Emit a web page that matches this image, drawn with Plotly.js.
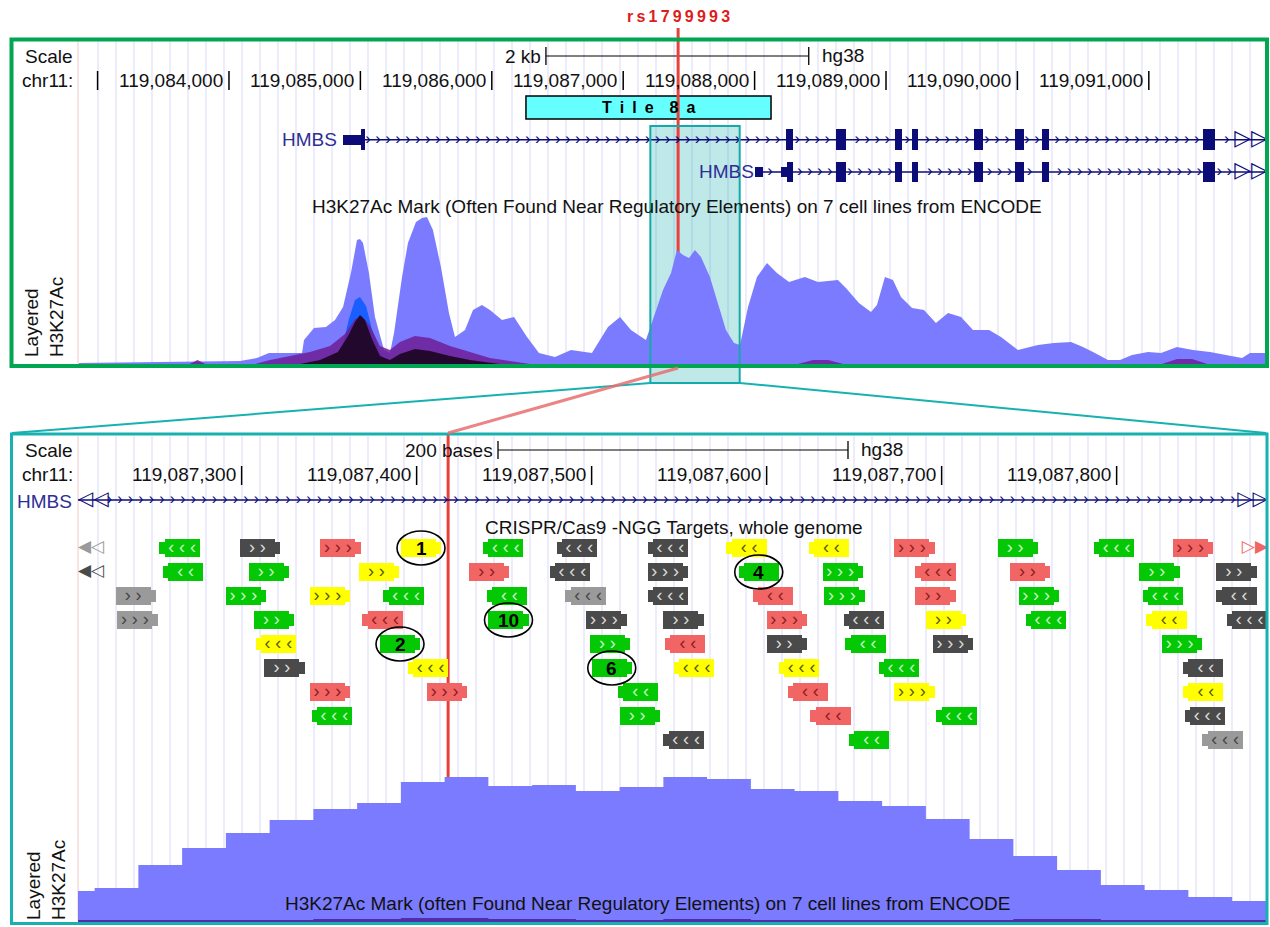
<!DOCTYPE html>
<html><head><meta charset="utf-8">
<script src="https://cdn.plot.ly/plotly-3.0.1.min.js"></script>
<style>html,body{margin:0;padding:0;background:#fff}#chart{width:1270px;height:927px}</style>
</head><body><div id="chart"></div>
<script>
// ================= DATA =================
const chromLabel = 'chr11:';
const assembly = 'hg38';
const topView = [119082851, 119091907];
const zoomView = [119087206.5, 119087886.5];
const snpName = 'rs1799993';
const snpPos = 119087418;

const topTicks = [119083000,119084000,119085000,119086000,119087000,119088000,119089000,119090000,119091000];
const topTickLabels = ['','119,084,000','119,085,000','119,086,000','119,087,000','119,088,000','119,089,000','119,090,000','119,091,000'];
const bottomTicks = [119087300,119087400,119087500,119087600,119087700,119087800];
const bottomTickLabels = ['119,087,300','119,087,400','119,087,500','119,087,600','119,087,700','119,087,800'];

const topScaleBar = [119086412, 119088412];
const topScaleLabel = '2 kb';
const bottomScaleBar = [119087446.5, 119087646.5];
const bottomScaleLabel = '200 bases';

const tileName = 'Tile 8a';
const tileRange = [119086260, 119088125];

const geneName = 'HMBS';
const gene1ExonStarts = [119084868,119088239,119088619,119089068,119089198,119089669,119089981,119090187,119091412];
const gene1ExonEnds   = [119085035,119088292,119088695,119089122,119089243,119089738,119090050,119090240,119091503];
const gene1CdsStart = 119085005;
const gene1TxEnd = 119093549;
const gene2ExonStarts = [119088003,119088201,119088619,119089068,119089198,119089669,119089981,119090187,119091412];
const gene2ExonEnds   = [119088064,119088292,119088695,119089122,119089243,119089738,119090050,119090240,119091503];
const gene2CdsStart = 119088246;
const gene2TxEnd = 119093549;

const trackTitleTop = 'H3K27Ac Mark (Often Found Near Regulatory Elements) on 7 cell lines from ENCODE';
const trackTitleBottom = 'H3K27Ac Mark (often Found Near Regulatory Elements) on 7 cell lines from ENCODE';
const crisprTitle = 'CRISPR/Cas9 -NGG Targets, whole genome';

// H3K27Ac layered signal, overview window
const sigTopPos = [119082858,119083399,119083779,119084084,119084213,119084304,119084556,119084571,119084647,119084738,
 119084807,119084868,119084928,119084974,119084997,119085020,119085065,119085111,119085180,119085225,
 119085256,119085317,119085362,119085423,119085469,119085507,119085552,119085613,119085674,119085720,
 119085796,119085857,119085925,119085986,119086078,119086169,119086268,119086359,119086481,119086603,
 119086762,119086884,119086976,119087059,119087173,119087234,119087303,119087364,119087409,119087455,
 119087501,119087546,119087592,119087660,119087721,119087782,119087843,119087889,119087950,119088018,
 119088094,119088170,119088262,119088383,119088482,119088634,119088695,119088794,119088886,119088931,
 119088992,119089053,119089114,119089198,119089289,119089380,119089472,119089571,119089662,119089784,
 119089875,119090004,119090156,119090278,119090408,119090499,119090590,119090689,119090781,119090872,
 119090994,119091093,119091214,119091336,119091466,119091587,119091709,119091770,119091907];
const sigTopVal = [1,2,2,3,6,11,11,24,36,37, 44,57,91,124,125,121,91,47,14,11, 31,87,121,142,146,147,134,97,51,27,
 34,54,59,54,44,47,27,11,7,14, 11,37,47,34,24,47,74,91,114,109, 106,114,107,87,61,34,21,19,57,87,
 101,91,82,87,82,84,76,61,52,59, 87,84,67,56,54,41,51,47,34,34, 27,14,19,21,22,17,11,4,4,9,
 12,11,17,14,12,9,6,11,11];
const sigBluePos = [119084807,119084868,119084913,119084959,119084997,119085043,119085088,119085149,119085195];
const sigBlueVal = [0,20,45,64,67,58,35,12,0];
const sigPurplePos = [119083700,119083760,119083820,119084198,119084312,119084464,119084616,119084769,119084883,119084959,119085012,
 119085073,119085149,119085225,119085301,119085415,119085530,119085682,119085834,119085986,119086138,119086290,
 119088330,119088445,119088560,119088675,119091100,119091215,119091330,119091445];
const sigPurpleVal = [0,4,0,0,4,8,12,18,30,45,48, 38,18,14,22,28,26,18,12,6,3,0, 0,4,4,0,0,5,5,0];
const sigDarkPos = [119084540,119084692,119084829,119084906,119084959,119084997,119085035,119085088,119085149,119085225,
 119085301,119085415,119085530,119085682,119085834,119085986,119086062];
const sigDarkVal = [0,4,12,28,42,49,44,25,8,4,10,15,13,8,4,1,0];

// H3K27Ac signal, zoomed window (25-base bins)
const binStarts = [119087191,119087216,119087241,119087266,119087291,119087316,119087341,119087366,119087391,119087416,
 119087441,119087466,119087491,119087516,119087541,119087566,119087591,119087616,119087641,119087666,
 119087691,119087716,119087741,119087766,119087791,119087816,119087841,119087866];
const binVal = [31,34,57,74,89,102,113,119,140,145,136,137,131,135,145,143,133,131,121,116,103,83,66,52,37,32,25,21];
const binValLow = [2,2,2,2,2,2,3,3,4,4,3,3,2,2,3,3,2,2,2,2,2,2,3,3,2,2,2,2];

// CRISPR/Cas9 NGG targets (row, start, strand, score colour, chevrons)
const tgtRow = [0,0,0,0,0,0,0,0,0,0,0,0,0,0,0,
 1,1,1,1,1,1,1,1,1,1,1,1,1,
 2,2,2,2,2,2,2,2,2,2,2,2,2,
 3,3,3,3,3,3,3,3,3,3,3,3,
 4,4,4,4,4,4,4,4,
 5,5,5,5,5,5,5,
 6,6,6,6,6,6,
 7,7,7,7,7,
 8,8,8];
const tgtStart = [119087190,119087253,119087299,119087345,119087391,119087438,119087480,119087532,119087577,119087624,119087673,119087732,119087787,119087832,119087872,
 119087193,119087255,119087304,119087367,119087430,119087476,119087532,119087584,119087632,119087685,119087739,119087813,119087857,
 119087228,119087291,119087339,119087381,119087440,119087485,119087532,119087592,119087633,119087685,119087744,119087815,119087857,
 119087229,119087307,119087369,119087441,119087497,119087541,119087600,119087644,119087691,119087748,119087817,119087863,
 119087308,119087379,119087499,119087542,119087600,119087645,119087695,119087826,
 119087313,119087395,119087500,119087547,119087607,119087664,119087838,
 119087339,119087406,119087515,119087612,119087673,119087838,
 119087340,119087516,119087625,119087697,119087839,
 119087541,119087647,119087849];
const tgtStrand = ['-','-','+','+','+','-','-','-','-','-','+','+','-','+','+',
 '-','-','+','+','+','-','+','-','+','-','+','+','+',
 '+','+','+','-','-','-','-','-','+','+','+','-','-',
 '+','+','-','+','+','+','+','-','+','-','-','-',
 '-','+','+','-','+','-','+','+',
 '+','-','+','-','-','-','-',
 '+','+','-','-','+','-',
 '-','+','-','-','-',
 '-','-','-'];
const tgtColor = ['lgray','green','dgray','red','yellow','green','dgray','dgray','yellow','yellow','red','green','green','red','red',
 'dgray','green','green','yellow','red','dgray','dgray','green','green','red','red','green','dgray',
 'lgray','green','yellow','green','green','lgray','dgray','red','green','red','green','green','dgray',
 'lgray','green','red','green','dgray','dgray','red','dgray','yellow','green','yellow','dgray',
 'yellow','green','green','red','dgray','green','dgray','green',
 'dgray','yellow','green','yellow','yellow','green','dgray',
 'red','red','green','red','yellow','yellow',
 'green','green','red','green','dgray',
 'dgray','green','lgray'];
const tgtChev = [2,3,2,3,2,3,3,3,2,2,3,2,3,3,3,
 2,2,2,2,2,3,3,2,3,3,2,2,2,
 2,3,3,3,2,3,3,2,3,2,3,3,2,
 3,2,3,2,3,2,3,3,2,3,2,3,
 3,2,2,2,2,2,3,3,
 2,3,2,3,3,3,2,
 3,3,2,2,3,2,
 3,2,2,3,3,
 3,2,3];

// circled guide labels
const lblRow = [0,1,3,4,5];
const lblStart = [119087391,119087584,119087441,119087379,119087500];
const lblText = ['1','4','10','2','6'];

// ================= DRAWING =================
const W = 1270, H = 927, L = 78, R = 1268;
const FONT = 'Liberation Sans, Arial, Helvetica, sans-serif';
const SYM = 'DejaVu Sans, sans-serif';
const px = v => v / W;
const py = v => 1 - v / H;
const topX = p => L + (p - topView[0]) * (R - L) / (topView[1] - topView[0]);
const botX = p => L + (p - zoomView[0]) * (R - L) / (zoomView[1] - zoomView[0]);

const NAVY = '#0c0c78';
const LAV = 'rgb(123,123,255)';
const GREEN_BORDER = '#00a651';
const TEAL = '#17b1b1';
const SNP_RED = '#e8403a';
const colorMap = {green:'#05c805', dgray:'#4a4a4a', lgray:'#9a9a9a', red:'#f26565', yellow:'#ffff00'};
const chevColorMap = {green:'#c4f7c4', dgray:'#dcdcdc', lgray:'#454545', red:'#8a1e1e', yellow:'#5a5a0a'};

const data = [];

// ---- top signal layers
data.push({type:'scatter', mode:'lines', x:sigTopPos, y:sigTopVal, xaxis:'x', yaxis:'y', fill:'tozeroy',
  fillcolor:LAV, line:{width:0, color:LAV}, hoverinfo:'skip'});
data.push({type:'scatter', mode:'lines', x:sigBluePos, y:sigBlueVal, xaxis:'x', yaxis:'y', fill:'tozeroy',
  fillcolor:'rgb(25,95,255)', line:{width:0}, hoverinfo:'skip'});
data.push({type:'scatter', mode:'lines', x:sigPurplePos, y:sigPurpleVal, xaxis:'x', yaxis:'y', fill:'tozeroy',
  fillcolor:'rgba(110,30,150,0.85)', line:{width:0}, hoverinfo:'skip'});
data.push({type:'scatter', mode:'lines', x:sigDarkPos, y:sigDarkVal, xaxis:'x', yaxis:'y', fill:'tozeroy',
  fillcolor:'rgb(35,8,45)', line:{width:0}, hoverinfo:'skip'});

// ---- bottom signal
const binW = binStarts[1] - binStarts[0];
data.push({type:'scatter', mode:'lines', x:binStarts.concat([binStarts[binStarts.length-1]+binW]),
  y:binVal.concat([binVal[binVal.length-1]]), line:{shape:'hv', width:0, color:LAV}, fill:'tozeroy', fillcolor:LAV,
  xaxis:'x2', yaxis:'y3', hoverinfo:'skip'});
data.push({type:'scatter', mode:'lines', x:binStarts.concat([binStarts[binStarts.length-1]+binW]),
  y:binValLow.concat([binValLow[binValLow.length-1]]), line:{shape:'hv', width:0}, fill:'tozeroy', fillcolor:'rgb(80,45,170)',
  xaxis:'x2', yaxis:'y3', hoverinfo:'skip'});

// ---- top genes
function addGene(exS, exE, cds, txEnd, row) {
  const thickY=[], thickB=[], thickL=[], thinY=[], thinB=[], thinL=[];
  exS.forEach((s,k)=>{
    const e = exE[k];
    if (e <= cds) { thinY.push(row); thinB.push(s); thinL.push(e-s); }
    else if (s < cds) { thinY.push(row); thinB.push(s); thinL.push(cds-s); thickY.push(row); thickB.push(cds); thickL.push(e-cds); }
    else { thickY.push(row); thickB.push(s); thickL.push(e-s); }
  });
  const end = Math.min(txEnd, topView[1]);
  data.push({type:'scatter', mode:'lines', x:[exS[0], end], y:[row,row], xaxis:'x', yaxis:'y2',
    line:{color:NAVY, width:1.5}, hoverinfo:'skip'});
  data.push({type:'bar', orientation:'h', y:thinY, x:thinL, base:thinB, width:0.3, xaxis:'x', yaxis:'y2',
    marker:{color:NAVY, line:{width:0}}, hoverinfo:'skip'});
  data.push({type:'bar', orientation:'h', y:thickY, x:thickL, base:thickB, width:0.64, xaxis:'x', yaxis:'y2',
    marker:{color:NAVY, line:{width:0}}, hoverinfo:'skip'});
  const cx = [];
  const step = 76, margin = 22;
  for (let p = exS[0] + step/2; p < end - 270; p += step) {
    let inside = false;
    for (let k = 0; k < exS.length; k++) if (p > exS[k]-margin && p < exE[k]+margin) inside = true;
    if (!inside) cx.push(p);
  }
  data.push({type:'scatter', mode:'text', x:cx, y:cx.map(()=>row), text:cx.map(()=>'›'), xaxis:'x', yaxis:'y2',
    textposition:'middle center', textfont:{family:FONT, size:17, color:NAVY}, hoverinfo:'skip'});
  if (txEnd > topView[1]) {
    data.push({type:'scatter', mode:'text', x:[topView[1]], y:[row], text:['▷▷'], xaxis:'x', yaxis:'y2',
      textposition:'middle left', cliponaxis:false, textfont:{family:SYM, size:22, color:NAVY}, hoverinfo:'skip'});
  }
}
addGene(gene1ExonStarts, gene1ExonEnds, gene1CdsStart, gene1TxEnd, 1);
addGene(gene2ExonStarts, gene2ExonEnds, gene2CdsStart, gene2TxEnd, 2);

// ---- bottom gene (intronic within zoom window)
const GENE_ROW_B = -2;
data.push({type:'scatter', mode:'lines', x:[zoomView[0], zoomView[1]], y:[GENE_ROW_B, GENE_ROW_B], xaxis:'x2', yaxis:'y4',
  line:{color:NAVY, width:1.3}, hoverinfo:'skip'});
(function(){
  const cx = [];
  for (let p = zoomView[0] + 18; p < zoomView[1] - 17; p += 6) cx.push(p);
  data.push({type:'scatter', mode:'text', x:cx, y:cx.map(()=>GENE_ROW_B), text:cx.map(()=>'›'), xaxis:'x2', yaxis:'y4',
    textposition:'middle center', textfont:{family:FONT, size:16, color:NAVY}, hoverinfo:'skip'});
  data.push({type:'scatter', mode:'text', x:[zoomView[0], zoomView[1]], y:[GENE_ROW_B, GENE_ROW_B], text:['◁◁','▷▷'],
    textposition:['middle right','middle left'], cliponaxis:false, xaxis:'x2', yaxis:'y4',
    textfont:{family:SYM, size:20, color:NAVY}, hoverinfo:'skip'});
})();

// ---- CRISPR targets
const THICK = 20, PAM = 3;
const tk = {y:[], b:[], l:[], c:[]}, pm = {y:[], b:[], l:[], c:[]};
const ch = {x:[], y:[], t:[], c:[]}, ed = {x:[], y:[], t:[], c:[], p:[]};
tgtStart.forEach((s, i) => {
  const e = s + THICK + PAM, row = tgtRow[i], col = tgtColor[i], plus = tgtStrand[i] === '+';
  if (s < zoomView[0]) { ed.x.push(zoomView[0]); ed.y.push(row); ed.t.push('◀◁'); ed.c.push(colorMap[col]); ed.p.push('middle right'); return; }
  if (e > zoomView[1]) { ed.x.push(zoomView[1]); ed.y.push(row); ed.t.push('▷▶'); ed.c.push(colorMap[col]); ed.p.push('middle left'); return; }
  const t0 = plus ? s : s + PAM, p0 = plus ? s + THICK : s;
  tk.y.push(row); tk.b.push(t0); tk.l.push(THICK); tk.c.push(colorMap[col]);
  pm.y.push(row); pm.b.push(p0); pm.l.push(PAM); pm.c.push(colorMap[col]);
  const labelled = lblRow.some((r, k) => r === row && lblStart[k] === s);
  if (!labelled) {
    const g = plus ? '›' : '‹';
    ch.x.push(t0 + THICK/2); ch.y.push(row); ch.t.push(Array(tgtChev[i]).fill(g).join(' ')); ch.c.push(chevColorMap[col]);
  }
});
data.push({type:'bar', orientation:'h', y:pm.y, x:pm.l, base:pm.b, width:0.5, xaxis:'x2', yaxis:'y4',
  marker:{color:pm.c, line:{width:0}}, hoverinfo:'skip'});
data.push({type:'bar', orientation:'h', y:tk.y, x:tk.l, base:tk.b, width:0.72, xaxis:'x2', yaxis:'y4',
  marker:{color:tk.c, line:{width:0}}, hoverinfo:'skip'});
data.push({type:'scatter', mode:'text', x:ch.x, y:ch.y, text:ch.t, xaxis:'x2', yaxis:'y4', textposition:'middle center',
  textfont:{family:FONT, size:18, color:ch.c}, hoverinfo:'skip'});
data.push({type:'scatter', mode:'text', x:ed.x, y:ed.y, text:ed.t, xaxis:'x2', yaxis:'y4', textposition:ed.p,
  cliponaxis:false, textfont:{family:SYM, size:17, color:ed.c}, hoverinfo:'skip'});

// ================= SHAPES =================
const shapes = [];
for (let gx = 98; gx <= 1266; gx += 18) {
  shapes.push({type:'line', xref:'paper', yref:'paper', x0:px(gx), x1:px(gx), y0:py(364), y1:py(41), line:{color:'#d9d9f7', width:1}, layer:'below'});
  shapes.push({type:'line', xref:'paper', yref:'paper', x0:px(gx), x1:px(gx), y0:py(921), y1:py(436), line:{color:'#d9d9f7', width:1}, layer:'below'});
}
shapes.push({type:'line', xref:'paper', yref:'paper', x0:px(L), x1:px(L), y0:py(364), y1:py(41), line:{color:'#f0c8c8', width:1}, layer:'below'});
shapes.push({type:'line', xref:'paper', yref:'paper', x0:px(L), x1:px(L), y0:py(921), y1:py(436), line:{color:'#f0c8c8', width:1}, layer:'below'});
// highlight fill (behind data)
shapes.push({type:'rect', xref:'x', yref:'paper', x0:zoomView[0], x1:zoomView[1], y0:py(383), y1:py(126),
  fillcolor:'rgba(0,165,165,0.25)', line:{width:0}, layer:'below'});
// tile
shapes.push({type:'rect', xref:'x', yref:'paper', x0:tileRange[0], x1:tileRange[1], y0:py(119), y1:py(96),
  fillcolor:'#66ffff', line:{color:'#000', width:1.5}, layer:'below'});
// scale bars
function scaleBar(xr, a, b, yc) {
  shapes.push({type:'line', xref:xr, yref:'paper', x0:a, x1:b, y0:py(yc), y1:py(yc), line:{color:'#000', width:1}, layer:'below'});
  shapes.push({type:'line', xref:xr, yref:'paper', x0:a, x1:a, y0:py(yc+9), y1:py(yc-9), line:{color:'#000', width:1.3}, layer:'below'});
  shapes.push({type:'line', xref:xr, yref:'paper', x0:b, x1:b, y0:py(yc+9), y1:py(yc-9), line:{color:'#000', width:1.3}, layer:'below'});
}
scaleBar('x', topScaleBar[0], topScaleBar[1], 56);
scaleBar('x2', bottomScaleBar[0], bottomScaleBar[1], 450);
// tick bars
topTicks.forEach(t => shapes.push({type:'line', xref:'x', yref:'paper', x0:t, x1:t, y0:py(90), y1:py(71), line:{color:'#000', width:1.5}, layer:'below'}));
bottomTicks.forEach(t => shapes.push({type:'line', xref:'x2', yref:'paper', x0:t, x1:t, y0:py(485), y1:py(466), line:{color:'#000', width:1.5}, layer:'below'}));
// SNP lines
shapes.push({type:'line', xref:'x', yref:'paper', x0:snpPos, x1:snpPos, y0:py(364), y1:py(28), line:{color:SNP_RED, width:3}, layer:'below'});
shapes.push({type:'line', xref:'x2', yref:'paper', x0:snpPos, x1:snpPos, y0:py(921), y1:py(434), line:{color:SNP_RED, width:3}, layer:'below'});

// highlight outline (above data)
shapes.push({type:'rect', xref:'x', yref:'paper', x0:zoomView[0], x1:zoomView[1], y0:py(383), y1:py(126),
  line:{color:'rgb(20,170,170)', width:2}, layer:'above'});
// panel borders
shapes.push({type:'rect', xref:'paper', yref:'paper', x0:px(11.5), x1:px(1267), y0:py(366), y1:py(39.5),
  line:{color:GREEN_BORDER, width:4}, layer:'above'});
shapes.push({type:'rect', xref:'paper', yref:'paper', x0:px(11.5), x1:px(1267), y0:py(923.5), y1:py(434),
  line:{color:TEAL, width:3}, layer:'above'});
// connectors
shapes.push({type:'line', xref:'paper', yref:'paper', x0:px(topX(zoomView[0])), y0:py(383), x1:px(12), y1:py(433), line:{color:TEAL, width:2}, layer:'above'});
shapes.push({type:'line', xref:'paper', yref:'paper', x0:px(topX(zoomView[1])), y0:py(383), x1:px(1266), y1:py(433), line:{color:TEAL, width:2}, layer:'above'});
shapes.push({type:'line', xref:'paper', yref:'paper', x0:px(topX(snpPos)), y0:py(368), x1:px(botX(snpPos)), y1:py(433), line:{color:'rgba(232,110,110,0.85)', width:3}, layer:'above'});
// circled guides
const PXB = (R - L) / (zoomView[1] - zoomView[0]);
const ROWPX = 24;
lblStart.forEach((s, k) => {
  const c = s + (THICK + PAM) / 2;
  shapes.push({type:'circle', xref:'x2', yref:'y4', x0:c - 24/PXB, x1:c + 24/PXB, y0:lblRow[k] - 17/ROWPX, y1:lblRow[k] + 17/ROWPX,
    line:{color:'#000', width:1.6}, layer:'above'});
});

// ================= ANNOTATIONS =================
const ann = [];
const txt = (o) => ann.push(Object.assign({showarrow:false, xanchor:'center', yanchor:'middle',
  font:{family:FONT, size:19, color:'#111'}}, o));
const spaced = (s, sp) => s.split('').join(sp);
txt({xref:'x', yref:'paper', x:snpPos, y:py(17), text:spaced(snpName, '\u2009'), font:{family:FONT, size:16, color:'#e01b1b', weight:'bold'}});
txt({xref:'paper', yref:'paper', x:px(75), y:py(56), text:'Scale', xanchor:'right'});
txt({xref:'paper', yref:'paper', x:px(75), y:py(80), text:chromLabel, xanchor:'right'});
txt({xref:'paper', yref:'paper', x:px(75), y:py(450), text:'Scale', xanchor:'right'});
txt({xref:'paper', yref:'paper', x:px(75), y:py(475), text:chromLabel, xanchor:'right'});
txt({xref:'x', yref:'paper', x:topScaleBar[0], y:py(56), text:topScaleLabel, xanchor:'right', xshift:-3});
txt({xref:'x', yref:'paper', x:topScaleBar[1], y:py(55), text:assembly, xanchor:'left', xshift:11});
txt({xref:'x2', yref:'paper', x:bottomScaleBar[0], y:py(450), text:bottomScaleLabel, xanchor:'right', xshift:-3});
txt({xref:'x2', yref:'paper', x:bottomScaleBar[1], y:py(449), text:assembly, xanchor:'left', xshift:11});
topTicks.forEach((t, k) => { if (topTickLabels[k]) txt({xref:'x', yref:'paper', x:t, y:py(80), text:topTickLabels[k], xanchor:'right', xshift:-4}); });
bottomTicks.forEach((t, k) => txt({xref:'x2', yref:'paper', x:t, y:py(475), text:bottomTickLabels[k], xanchor:'right', xshift:-4}));
txt({xref:'x', yref:'paper', x:(tileRange[0]+tileRange[1])/2, y:py(108), text:tileName.split(' ').map(w => spaced(w, '\u2002')).join('\u2002\u2002'),
  font:{family:FONT, size:16, color:'#000', weight:'bold'}});
txt({xref:'x', yref:'y2', x:gene1ExonStarts[0], y:1, text:geneName, xanchor:'right', xshift:-4, font:{family:FONT, size:19, color:'#2e2e96'}});
txt({xref:'x', yref:'y2', x:gene2ExonStarts[0], y:2, text:geneName, xanchor:'right', xshift:1, font:{family:FONT, size:19, color:'#2e2e96'}});
txt({xref:'paper', yref:'paper', x:px(74), y:py(501), text:geneName, xanchor:'right', font:{family:FONT, size:19, color:'#2e2e96'}});
txt({xref:'paper', yref:'paper', x:px(677), y:py(206), text:trackTitleTop});
txt({xref:'paper', yref:'paper', x:px(674), y:py(527), text:crisprTitle});
txt({xref:'paper', yref:'paper', x:px(647), y:py(903), text:trackTitleBottom});
txt({xref:'paper', yref:'paper', x:px(44), y:py(317), text:'Layered<br>H3K27Ac', textangle:-90, align:'left'});
txt({xref:'paper', yref:'paper', x:px(46), y:py(880), text:'Layered<br>H3K27Ac', textangle:-90, align:'left'});
lblStart.forEach((s, k) => txt({xref:'x2', yref:'y4', x:s + (THICK + PAM)/2, y:lblRow[k], text:lblText[k],
  font:{family:FONT, size:19, color:'#000', weight:'bold'}}));

// ================= LAYOUT =================
const hid = {visible:false, fixedrange:true};
const layout = {
  width:W, height:H, margin:{l:0, r:0, t:0, b:0},
  paper_bgcolor:'#ffffff', plot_bgcolor:'rgba(0,0,0,0)',
  showlegend:false, hovermode:false, barmode:'overlay', bargap:0,
  xaxis: Object.assign({domain:[px(L), px(R)], range:topView, anchor:'y'}, hid),
  yaxis: Object.assign({domain:[py(364), py(210)], range:[0,154], anchor:'x'}, hid),
  yaxis2: Object.assign({domain:[py(188), py(91.4)], range:[2.5,-0.5], anchor:'x'}, hid),
  xaxis2: Object.assign({domain:[px(L), px(R)], range:zoomView, anchor:'y3'}, hid),
  yaxis3: Object.assign({domain:[py(922), py(772)], range:[0,150], anchor:'x2'}, hid),
  yaxis4: Object.assign({domain:[py(752), py(488)], range:[8.5,-2.5], anchor:'x2'}, hid),
  shapes: shapes, annotations: ann
};
Plotly.newPlot('chart', data, layout, {staticPlot:true, displayModeBar:false});
</script>
</body></html>
